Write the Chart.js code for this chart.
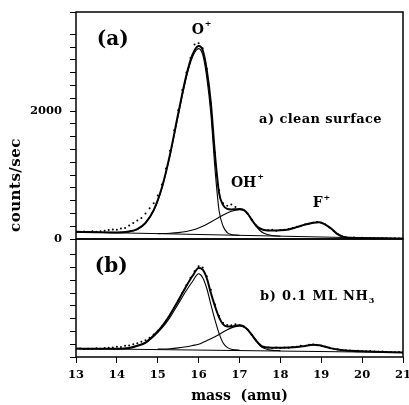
<!DOCTYPE html>
<html>
<head>
<meta charset="utf-8">
<script src="https://cdn.jsdelivr.net/npm/chart.js@4.4.0/dist/chart.umd.min.js"></script>
<style>
    html, body { margin: 0; padding: 0; background: #fff; }
    #wrap { position: relative; width: 409px; height: 405px; }
    canvas { position: absolute; left: 0; top: 0; }
    #ylab { position: absolute; left: 15px; top: 185px; transform: translate(-50%, -50%) rotate(-90deg);
            font: bold 15px 'DejaVu Serif'; letter-spacing: 0.5px; white-space: nowrap; color: #000; }
</style>
</head>
<body>
<div id="wrap">
    <canvas id="graficoA" width="409" height="405"></canvas>
    <canvas id="graficoB" width="409" height="405"></canvas>
    <div id="ylab">counts/sec</div>
</div>
<script>
// massas (amu) das curvas ajustadas
const massaAjuste = [13, 13.5, 14, 14.3, 14.5, 14.7, 14.9, 15.1, 15.3, 15.5, 15.7, 15.85, 16, 16.1, 16.2, 16.3, 16.4, 16.5, 16.6, 16.7,
    16.8, 16.9, 17, 17.1, 17.2, 17.3, 17.4, 17.5, 17.6, 17.8, 18, 18.2, 18.4, 18.6, 18.8, 18.95, 19.1, 19.25, 19.4, 19.55,
    19.7, 20, 20.5, 21]
const massaO = [13, 13.5, 14, 14.3, 14.5, 14.7, 14.9, 15.1, 15.3, 15.5, 15.7, 15.85, 16, 16.1, 16.2, 16.3, 16.4, 16.5, 16.6, 16.7, 16.8, 16.9, 17]
const massaOH = [15, 15.3, 15.5, 15.7, 15.85, 16, 16.1, 16.2, 16.3, 16.4, 16.5, 16.6, 16.7, 16.8, 16.9, 17, 17.1, 17.2, 17.3, 17.4, 17.5, 17.6, 17.8, 18]
const massaFundo = [13, 21]
const massaDados = [13.0, 13.1, 13.2, 13.3, 13.4, 13.5, 13.6, 13.7, 13.8, 13.9, 14.0, 14.1, 14.2, 14.3, 14.4, 14.5, 14.6, 14.7, 14.8, 14.9,
    15.0, 15.1, 15.2, 15.3, 15.4, 15.5, 15.6, 15.7, 15.8, 15.9, 16.0, 16.1, 16.2, 16.3, 16.4, 16.5, 16.6, 16.7, 16.8, 16.9,
    17.0, 17.1, 17.2, 17.3, 17.4, 17.5, 17.6, 17.7, 17.8, 17.9, 18.0, 18.1, 18.2, 18.3, 18.4, 18.5, 18.6, 18.7, 18.8, 18.9,
    19.0, 19.1, 19.2, 19.3, 19.4, 19.5, 19.6, 19.7, 19.8, 19.9, 20.0, 20.1, 20.2, 20.3, 20.4, 20.5, 20.6, 20.7, 20.8, 20.9, 21.0]

// (a) superficie limpa - counts/sec
const totalA = [112, 106, 103, 118, 155, 252, 450, 800, 1322, 1956, 2560, 2880, 3015, 2950, 2640, 2120, 1320, 720, 530, 470,
    462, 465, 468, 455, 395, 300, 215, 165, 142, 132, 135, 150, 185, 225, 255, 262, 225, 160, 75, 30,
    20, 17, 11, 6]
const picoOA = [110, 104, 99, 112, 150, 245, 440, 790, 1305, 1930, 2530, 2845, 2975, 2880, 2520, 1950, 1100, 445, 200, 100, 70, 62, 58]
const picoOHA = [84, 90, 99, 117, 140, 173, 201, 232, 267, 303, 340, 376, 407, 432, 450, 459, 451, 392, 299, 205, 133, 89, 54, 44]
const fundoA = [110, 5]
const dadosA = [115, 108, 118, 110, 120, 114, 122, 128, 140, 150, 146, 165, 170, 210, 250, 290, 330, 400, 480, 560,
    680, 850, 1100, 1380, 1700, 2010, 2330, 2600, 2830, 3040, 3060, 2980, 2660, 2120, 1350, 760, 560, 520, 540, 500,
    470, 455, 390, 300, 210, 160, 140, 135, 145, 130, 140, 145, 155, 170, 190, 205, 225, 240, 255, 265,
    255, 225, 180, 130, 80, 42, 25, 20, 22, 16, 18, 12, 15, 12, 9, 13, 10, 8, 11, 7, 9]

// (b) 0.1 ML NH3 - counts/sec
const totalB = [131, 128, 129, 141, 175, 225, 335, 475, 660, 880, 1110, 1265, 1390, 1365, 1230, 1000, 795, 620, 510, 478,
    476, 488, 495, 478, 428, 348, 262, 192, 155, 145, 145, 148, 155, 172, 190, 185, 160, 135, 118, 105,
    98, 88, 80, 72]
const picoOB = [131, 128, 128, 140, 172, 220, 320, 450, 620, 830, 1040, 1180, 1300, 1240, 1070, 820, 580, 370, 220, 150, 120, 112, 110]
const picoOHB = [123, 130, 142, 160, 180, 200, 225, 255, 285, 318, 352, 390, 425, 455, 475, 485, 472, 422, 342, 255, 180, 135, 104, 100]
const fundoB = [131, 70]
const dadosB = [128, 132, 125, 130, 127, 135, 130, 140, 145, 150, 160, 155, 175, 180, 200, 215, 240, 260, 300, 350,
    410, 480, 565, 660, 770, 880, 1000, 1120, 1240, 1340, 1420, 1400, 1260, 1050, 820, 640, 530, 500, 495, 510,
    495, 475, 425, 345, 260, 190, 160, 148, 140, 150, 142, 148, 145, 155, 160, 175, 170, 190, 195, 185,
    175, 160, 145, 130, 122, 110, 105, 100, 95, 98, 90, 88, 92, 85, 82, 86, 80, 78, 75, 77, 72]

const rotulosTicksA = [0, 2000]
const rotulosTicksB = []
const ticksMassa = [13, 14, 15, 16, 17, 18, 19, 20, 21]

const textosA = [
    { texto: '(a)', x: 13.51, y: 3109, tam: 20 },
    { texto: 'O', sup: '+', x: 15.83, y: 3266, tam: 14 },
    { texto: 'a) clean surface', x: 17.48, y: 1859, tam: 13, esp: 0.4 },
    { texto: 'OH', sup: '+', x: 16.79, y: 875, tam: 14 },
    { texto: 'F', sup: '+', x: 18.79, y: 562, tam: 14 }
]
const textosB = [
    { texto: '(b)', x: 13.46, y: 1402, tam: 20 },
    { texto: 'b) 0.1 ML NH', sub: '3', x: 17.5, y: 942, tam: 13, esp: 0.8 }
]

const pontos = (xs, ys) => xs.map((x, i) => ({ x: x, y: ys[i] }))
const fonteSerif = '"DejaVu Serif", serif'

const chartAreaBorder = {
    id: 'chartAreaBorder',
    afterDraw(chart) {
        const { ctx, chartArea: { left, top, right, bottom } } = chart
        ctx.save()
        ctx.strokeStyle = '#000'
        ctx.lineWidth = 1.5
        ctx.strokeRect(left, top, right - left, bottom - top)
        ctx.restore()
    }
}

const textosGrafico = {
    id: 'textosGrafico',
    afterDatasetsDraw(chart, args, opts) {
        const ctx = chart.ctx
        const sx = chart.scales.x, sy = chart.scales.y
        ctx.save()
        ctx.fillStyle = '#000'
        ctx.textBaseline = 'middle'
        ctx.textAlign = 'left'
        opts.itens.forEach(t => {
            ctx.font = `bold ${t.tam}px ${fonteSerif}`
            if ('letterSpacing' in ctx) ctx.letterSpacing = (t.esp || 0) + 'px'
            let px = sx.getPixelForValue(t.x)
            let py = sy.getPixelForValue(t.y)
            ctx.fillText(t.texto, px, py)
            let w = ctx.measureText(t.texto).width
            if (t.sup) {
                ctx.font = `bold ${Math.round(t.tam * 0.6)}px ${fonteSerif}`
                ctx.fillText(t.sup, px + w + 1, py - t.tam * 0.4)
            }
            if (t.sub) {
                ctx.font = `bold ${Math.round(t.tam * 0.65)}px ${fonteSerif}`
                ctx.fillText(t.sub, px + w, py + t.tam * 0.3)
            }
        })
        ctx.restore()
    }
}

function criarGrafico(idCanvas, total, picoO, picoOH, fundo, dados, yMax, rotulosY, textos, padTop, padBottom, mostrarX) {
    return new Chart(document.getElementById(idCanvas), {
        type: 'line',
        data: {
            datasets: [
                { data: pontos(massaAjuste, total), borderColor: '#000', borderWidth: 2, pointRadius: 0, cubicInterpolationMode: 'monotone' },
                { data: pontos(massaO, picoO), borderColor: '#000', borderWidth: 1.1, pointRadius: 0, cubicInterpolationMode: 'monotone' },
                { data: pontos(massaOH, picoOH), borderColor: '#000', borderWidth: 1.1, pointRadius: 0, cubicInterpolationMode: 'monotone' },
                { data: pontos(massaFundo, fundo), borderColor: '#000', borderWidth: 1, pointRadius: 0 },
                { data: pontos(massaDados, dados), showLine: false, pointRadius: 1, pointBorderWidth: 0, pointBackgroundColor: '#000' }
            ]
        },
        options: {
            responsive: false,
            animation: false,
            events: [],
            layout: {
                padding: { left: 0, right: 6, top: padTop, bottom: padBottom }
            },
            plugins: {
                legend: { display: false },
                tooltip: { enabled: false },
                textosGrafico: { itens: textos }
            },
            scales: {
                x: {
                    type: 'linear',
                    display: mostrarX,
                    min: 13,
                    max: 21,
                    afterFit: s => {
                        if (mostrarX) s.height = 48
                        s.paddingLeft = 0
                        s.paddingRight = 0
                    },
                    afterBuildTicks: s => { s.ticks = ticksMassa.map(v => ({ value: v })) },
                    ticks: {
                        color: '#000',
                        padding: 5,
                        font: { family: fonteSerif, size: 11.5, weight: 'bold' }
                    },
                    grid: { drawOnChartArea: false, drawTicks: true, tickLength: 6, color: '#000', lineWidth: 1 },
                    border: { display: false },
                    title: {
                        display: true,
                        text: 'mass  (amu)',
                        color: '#000',
                        font: { family: fonteSerif, size: 14, weight: 'bold' },
                        padding: { top: 0, bottom: 0 }
                    }
                },
                y: {
                    type: 'linear',
                    min: 0,
                    max: yMax,
                    afterFit: s => {
                        s.width = 76
                        s.paddingTop = 0
                        s.paddingBottom = 0
                    },
                    ticks: {
                        stepSize: 200,
                        autoSkip: false,
                        color: '#000',
                        padding: 8,
                        font: { family: fonteSerif, size: 11.5, weight: 'bold' },
                        callback: v => rotulosY.includes(v) ? String(v) : ''
                    },
                    grid: { drawOnChartArea: false, drawTicks: true, tickLength: 6, color: '#000', lineWidth: 1 },
                    border: { display: false }
                }
            }
        },
        plugins: [chartAreaBorder, textosGrafico]
    })
}

criarGrafico('graficoA', totalA, picoOA, picoOHA, fundoA, dadosA, 3547, rotulosTicksA, textosA, 12, 166, false)
criarGrafico('graficoB', totalB, picoOB, picoOHB, fundoB, dadosB, 1844, rotulosTicksB, textosB, 239, 0, true)
</script>
</body>
</html>
